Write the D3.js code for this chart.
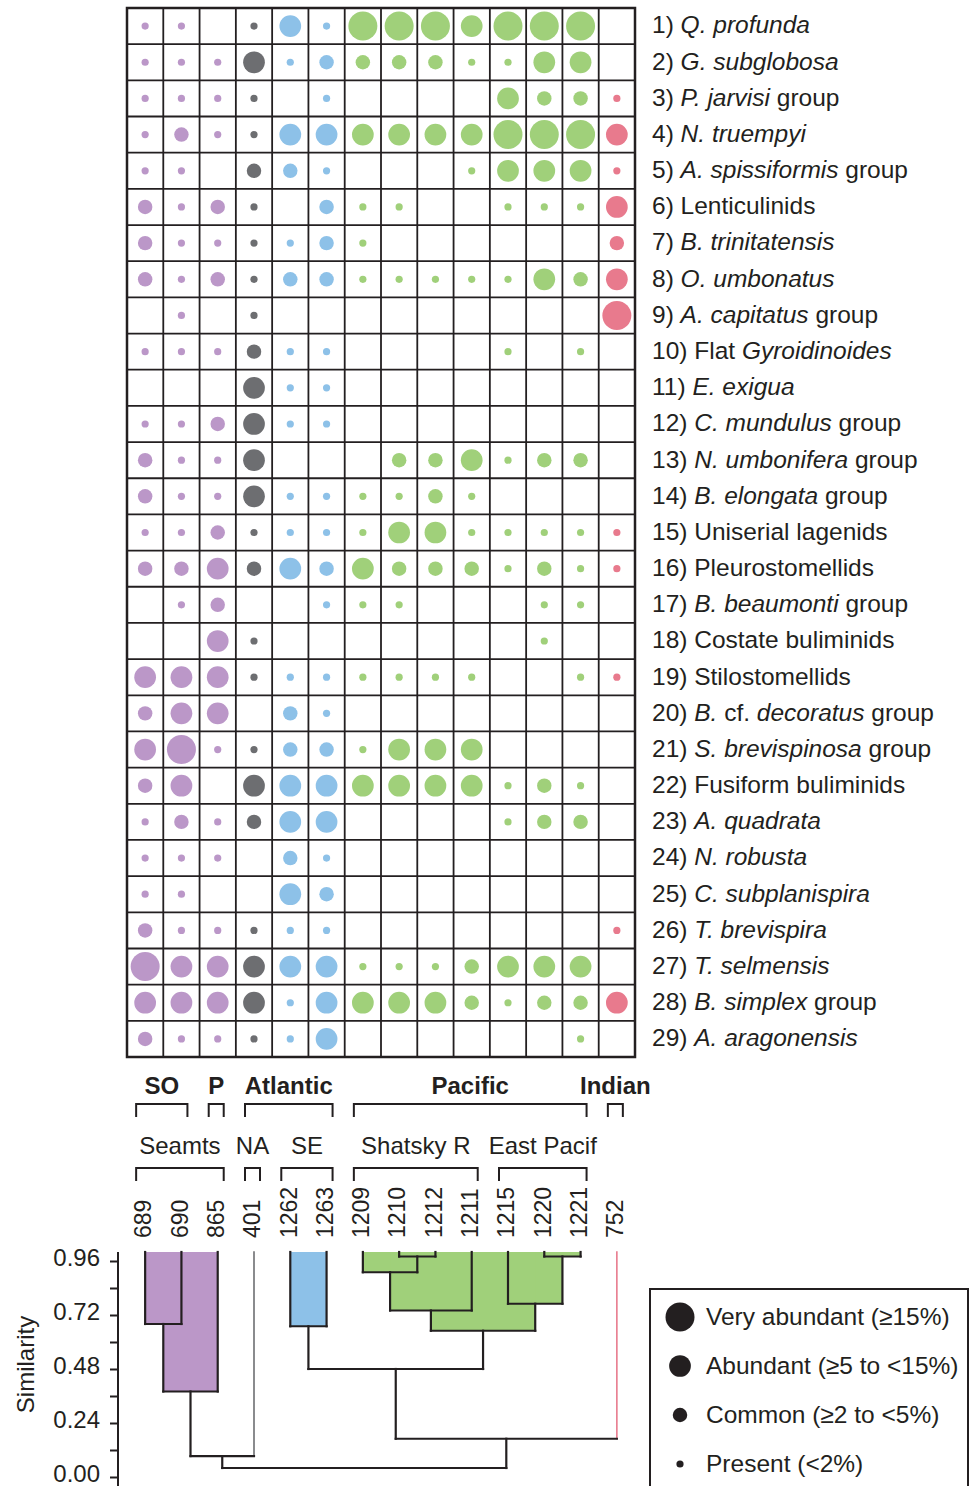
<!DOCTYPE html>
<html>
<head>
<meta charset="utf-8">
<script src="https://cdn.jsdelivr.net/npm/d3@7"></script>
<style>
  body { margin: 0; background: #fff; }
  text { font-family: "Liberation Sans", Arial, sans-serif; fill: #231f20; }
</style>
</head>
<body>
<div id="chart"></div>
<script>
// sites (columns) and the region each one belongs to
var sites = ["689", "690", "865", "401", "1262", "1263", "1209", "1210", "1212", "1211", "1215", "1220", "1221", "752"];
var siteGroups = ["so", "so", "p", "na", "se", "se", "pac", "pac", "pac", "pac", "pac", "pac", "pac", "ind"];

// taxa (rows), italic parts between underscores
var taxa = [
  "1) _Q. profunda_", "2) _G. subglobosa_", "3) _P. jarvisi_ group", "4) _N. truempyi_",
  "5) _A. spissiformis_ group", "6) Lenticulinids", "7) _B. trinitatensis_", "8) _O. umbonatus_",
  "9) _A. capitatus_ group", "10) Flat _Gyroidinoides_", "11) _E. exigua_", "12) _C. mundulus_ group",
  "13) _N. umbonifera_ group", "14) _B. elongata_ group", "15) Uniserial lagenids", "16) Pleurostomellids",
  "17) _B. beaumonti_ group", "18) Costate buliminids", "19) Stilostomellids", "20) _B._ cf. _decoratus_ group",
  "21) _S. brevispinosa_ group", "22) Fusiform buliminids", "23) _A. quadrata_", "24) _N. robusta_",
  "25) _C. subplanispira_", "26) _T. brevispira_", "27) _T. selmensis_", "28) _B. simplex_ group",
  "29) _A. aragonensis_"
];

// abundance class per taxon and site: 0 absent, 1 present, 2 common, 3 abundant, 4 very abundant
var abundance = [
  [1,1,0,1,3,1,4,4,4,3,4,4,4,0],
  [1,1,1,3,1,2,2,2,2,1,1,3,3,0],
  [1,1,1,1,0,1,0,0,0,0,3,2,2,1],
  [1,2,1,1,3,3,3,3,3,3,4,4,4,3],
  [1,1,0,2,2,1,0,0,0,1,3,3,3,1],
  [2,1,2,1,0,2,1,1,0,0,1,1,1,3],
  [2,1,1,1,1,2,1,0,0,0,0,0,0,2],
  [2,1,2,1,2,2,1,1,1,1,1,3,2,3],
  [0,1,0,1,0,0,0,0,0,0,0,0,0,4],
  [1,1,1,2,1,1,0,0,0,0,1,0,1,0],
  [0,0,0,3,1,1,0,0,0,0,0,0,0,0],
  [1,1,2,3,1,1,0,0,0,0,0,0,0,0],
  [2,1,1,3,0,0,0,2,2,3,1,2,2,0],
  [2,1,1,3,1,1,1,1,2,1,0,0,0,0],
  [1,1,2,1,1,1,1,3,3,1,1,1,1,1],
  [2,2,3,2,3,2,3,2,2,2,1,2,1,1],
  [0,1,2,0,0,1,1,1,0,0,0,1,1,0],
  [0,0,3,1,0,0,0,0,0,0,0,1,0,0],
  [3,3,3,1,1,1,1,1,1,1,0,0,1,1],
  [2,3,3,0,2,1,0,0,0,0,0,0,0,0],
  [3,4,1,1,2,2,1,3,3,3,0,0,0,0],
  [2,3,0,3,3,3,3,3,3,3,1,2,1,0],
  [1,2,1,2,3,3,0,0,0,0,1,2,2,0],
  [1,1,1,0,2,1,0,0,0,0,0,0,0,0],
  [1,1,0,0,3,2,0,0,0,0,0,0,0,0],
  [2,1,1,1,1,1,0,0,0,0,0,0,0,1],
  [4,3,3,3,3,3,1,1,1,2,3,3,3,0],
  [3,3,3,3,1,3,3,3,3,2,1,2,2,3],
  [2,1,1,1,1,3,0,0,0,0,0,0,1,0]
];

var regionNames = ["SO", "P", "Atlantic", "Pacific", "Indian"];
var regionSpans = [["689", "690"], ["865", "865"], ["401", "1263"], ["1209", "1221"], ["752", "752"]];
var subNames = ["Seamts", "NA", "SE", "Shatsky R", "East Pacif"];
var subSpans = [["689", "865"], ["401", "401"], ["1262", "1263"], ["1209", "1211"], ["1215", "1221"]];

// cluster merges: [child a, child b, similarity]; leaves are 0..13, new clusters from 14
var merges = [
  [7, 8, 0.98], [11, 12, 0.98], [6, 14, 0.91], [10, 15, 0.77], [16, 9, 0.74],
  [0, 1, 0.68], [4, 5, 0.67], [18, 17, 0.65], [20, 21, 0.48], [19, 2, 0.38],
  [22, 13, 0.17], [23, 3, 0.093], [25, 24, 0.04]
];
var mergeFill = ["pac", "pac", "pac", "pac", "pac", "so", "se", "pac", null, "so", null, null, null];

var simTicks = [0, 0.12, 0.24, 0.36, 0.48, 0.60, 0.72, 0.84, 0.96];
var legendLabels = ["Very abundant (\u226515%)", "Abundant (\u22655 to <15%)", "Common (\u22652 to <5%)", "Present (<2%)"];
var legendCodes = [4, 3, 2, 1];

var width = 974, height = 1486, ink = "#231f20";
var groupColor = { so: "#bb97c8", p: "#bb97c8", na: "#6d6e71", se: "#8dc1e8", pac: "#a0d07a", ind: "#e87a8d" };

var svg = d3.select("#chart").append("svg")
  .attr("width", width)
  .attr("height", height);

var x = d3.scaleBand().domain(sites).range([127, 635]);
var y = d3.scaleBand().domain(taxa).range([8, 1057]);
var r = d3.scaleLinear().domain([1, 4]).range([3.6, 14.5]);
function xc(s) { return x(s) + x.bandwidth() / 2; }
function yc(t) { return y(t) + y.bandwidth() / 2; }

// bubbles
var cells = [];
abundance.forEach(function (row, i) {
  row.forEach(function (v, j) {
    if (v > 0) cells.push({ taxon: taxa[i], site: sites[j], group: siteGroups[j], v: v });
  });
});
svg.append("g").selectAll("circle")
  .data(cells)
  .enter()
  .append("circle")
  .attr("cx", function (d) { return xc(d.site); })
  .attr("cy", function (d) { return yc(d.taxon); })
  .attr("r", function (d) { return r(d.v); })
  .style("fill", function (d) { return groupColor[d.group]; });

// grid
var grid = svg.append("g").style("stroke", ink).style("fill", "none");
grid.selectAll(".vline")
  .data(sites.slice(1))
  .enter()
  .append("line")
  .attr("x1", function (d) { return x(d); })
  .attr("x2", function (d) { return x(d); })
  .attr("y1", 8).attr("y2", 1057)
  .style("stroke-width", 1.8);
grid.selectAll(".hline")
  .data(taxa.slice(1))
  .enter()
  .append("line")
  .attr("y1", function (d) { return y(d); })
  .attr("y2", function (d) { return y(d); })
  .attr("x1", 127).attr("x2", 635)
  .style("stroke-width", 1.8);
grid.append("rect")
  .attr("x", 127).attr("y", 8)
  .attr("width", 508).attr("height", 1049)
  .style("stroke-width", 2.5);

// taxon labels with italic parts
svg.append("g").selectAll("text")
  .data(taxa)
  .enter()
  .append("text")
  .attr("x", 652)
  .attr("y", function (d) { return yc(d); })
  .attr("dy", "0.3em")
  .style("font-size", "24.5px")
  .each(function (d) {
    var t = d3.select(this);
    d.split("_").forEach(function (part, k) {
      if (part) t.append("tspan").text(part).style("font-style", k % 2 ? "italic" : "normal");
    });
  });

// brackets and region labels
function bracket(g, spans, yTop, yBot) {
  g.selectAll("path")
    .data(spans)
    .enter()
    .append("path")
    .attr("d", function (d) {
      var x0 = xc(d[0]) - 9, x1 = xc(d[1]) + 6;
      return "M" + x0 + "," + yBot + "V" + yTop + "H" + x1 + "V" + yBot;
    })
    .style("fill", "none")
    .style("stroke", ink)
    .style("stroke-width", 2);
}
var top1 = svg.append("g");
bracket(top1, regionSpans, 1104, 1117);
top1.selectAll("text")
  .data(regionNames)
  .enter()
  .append("text")
  .attr("x", function (d, i) { return (xc(regionSpans[i][0]) - 9 + xc(regionSpans[i][1]) + 6) / 2; })
  .attr("y", 1094)
  .attr("text-anchor", "middle")
  .style("font-size", "24px")
  .style("font-weight", "bold")
  .text(function (d) { return d; });

var top2 = svg.append("g");
bracket(top2, subSpans, 1168, 1181);
top2.selectAll("text")
  .data(subNames)
  .enter()
  .append("text")
  .attr("x", function (d, i) { return (xc(subSpans[i][0]) - 9 + xc(subSpans[i][1]) + 6) / 2; })
  .attr("y", 1154)
  .attr("text-anchor", "middle")
  .style("font-size", "24px")
  .text(function (d) { return d; });

// site numbers
svg.append("g").selectAll("text")
  .data(sites)
  .enter()
  .append("text")
  .attr("transform", function (d) { return "translate(" + (xc(d) - 2) + ",1238) rotate(-90)"; })
  .attr("dy", "0.36em")
  .style("font-size", "23px")
  .text(function (d) { return d; });

// dendrogram
var ySim = d3.scaleLinear().domain([0, 1]).range([1477, 1252]);
var nodes = sites.map(function (s, i) { return { x: xc(s), h: 1, leaf: true, group: siteGroups[i] }; });
merges.forEach(function (m, i) {
  var a = nodes[m[0]], b = nodes[m[1]];
  nodes.push({ x: (a.x + b.x) / 2, h: m[2], a: a, b: b, fill: mergeFill[i] });
});
var links = nodes.slice(sites.length);
var dendro = svg.append("g");

dendro.selectAll(".fill")
  .data(links.filter(function (d) { return d.fill; }))
  .enter()
  .append("rect")
  .attr("x", function (d) { return Math.min(d.a.x, d.b.x); })
  .attr("y", ySim(1))
  .attr("width", function (d) { return Math.abs(d.b.x - d.a.x); })
  .attr("height", function (d) { return ySim(d.h) - ySim(1); })
  .style("fill", function (d) { return groupColor[d.fill]; });

var segs = [];
links.forEach(function (d) {
  [d.a, d.b].forEach(function (c) {
    var lone = c.leaf && (c.group === "na" || c.group === "ind");
    segs.push({ x1: c.x, x2: c.x, y1: ySim(c.h), y2: ySim(d.h),
      c: lone ? groupColor[c.group] : ink, w: lone ? 1.6 : 2.2 });
  });
});
links.forEach(function (d) {
  segs.push({ x1: d.a.x, x2: d.b.x, y1: ySim(d.h), y2: ySim(d.h), c: ink, w: 2.2 });
});
dendro.selectAll(".seg")
  .data(segs)
  .enter()
  .append("line")
  .attr("x1", function (d) { return d.x1; })
  .attr("x2", function (d) { return d.x2; })
  .attr("y1", function (d) { return d.y1; })
  .attr("y2", function (d) { return d.y2; })
  .style("stroke", function (d) { return d.c; })
  .style("stroke-width", function (d) { return d.w; })
  .style("stroke-linecap", "square");

// similarity axis
var axis = d3.axisLeft(ySim)
  .tickValues(simTicks)
  .tickSize(8)
  .tickPadding(10)
  .tickFormat(function (d, i) { return i % 2 ? "" : d3.format(".2f")(d); });
var ax = svg.append("g").attr("transform", "translate(118,0)").call(axis);
ax.select(".domain").remove();
ax.selectAll(".tick line").style("stroke", ink).style("stroke-width", 2);
ax.selectAll(".tick text")
  .attr("dy", "0.2em")
  .style("font-size", "24px")
  .style("font-family", "'Liberation Sans', Arial, sans-serif")
  .style("fill", ink);
ax.append("line")
  .attr("y1", ySim(1)).attr("y2", height + 5)
  .style("stroke", ink).style("stroke-width", 2);

svg.append("text")
  .attr("transform", "translate(25," + ySim(0.5) + ") rotate(-90)")
  .attr("text-anchor", "middle")
  .attr("dy", "0.36em")
  .style("font-size", "24px")
  .text("Similarity");

// legend
var legend = svg.append("g");
legend.append("rect")
  .attr("x", 650).attr("y", 1289)
  .attr("width", 318).attr("height", 260)
  .style("fill", "none").style("stroke", ink).style("stroke-width", 2);
var items = legend.selectAll(".item")
  .data(legendCodes)
  .enter()
  .append("g")
  .attr("transform", function (d, i) { return "translate(680," + (1317 + i * 49) + ")"; });
items.append("circle")
  .attr("r", function (d) { return r(d); })
  .style("fill", ink);
items.append("text")
  .attr("x", 26)
  .attr("dy", "0.34em")
  .style("font-size", "24.5px")
  .text(function (d, i) { return legendLabels[i]; });
</script>
</body>
</html>
